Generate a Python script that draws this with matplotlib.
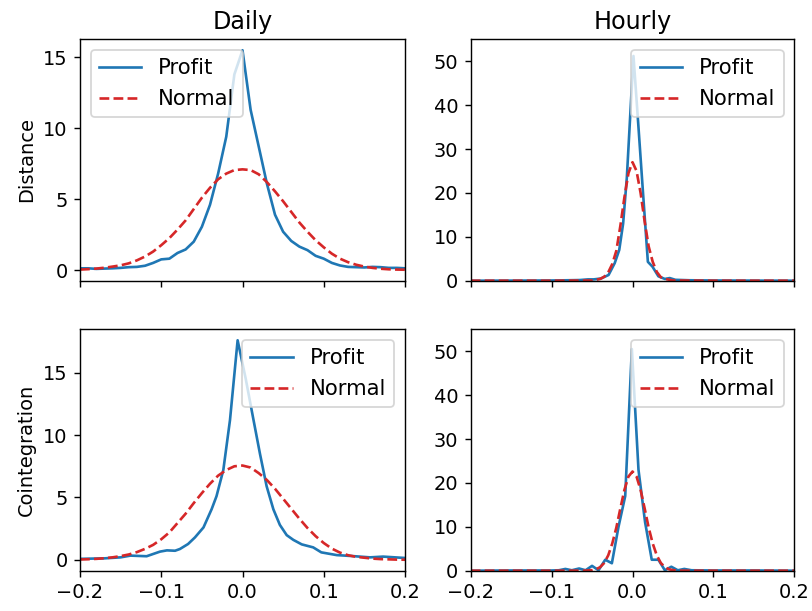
import matplotlib
matplotlib.use("Agg")
import matplotlib.pyplot as plt

# ---------------- data ----------------
col_titles = ["Daily", "Hourly"]
row_labels = ["Distance", "Cointegration"]
series_names = ["Profit", "Normal"]
x_ticks = [-0.2, -0.1, 0.0, 0.1, 0.2]

# Daily / Distance
dd_x = [-0.20, -0.19, -0.18, -0.17, -0.16, -0.15, -0.14, -0.13, -0.12, -0.11,
        -0.10, -0.09, -0.08, -0.07, -0.06, -0.05, -0.04, -0.03, -0.02, -0.01,
        0.00, 0.01, 0.02, 0.03, 0.04, 0.05, 0.06, 0.07, 0.08, 0.09,
        0.10, 0.11, 0.12, 0.13, 0.14, 0.15, 0.16, 0.17, 0.18, 0.19, 0.20]
dd_profit = [0.12, 0.12, 0.08, 0.10, 0.12, 0.15, 0.20, 0.22, 0.30, 0.50,
             0.75, 0.80, 1.20, 1.45, 2.00, 3.05, 4.60, 6.80, 9.40, 13.8,
             15.5, 11.3, 8.70, 6.10, 3.90, 2.70, 2.05, 1.65, 1.40, 1.00,
             0.80, 0.50, 0.32, 0.22, 0.20, 0.18, 0.22, 0.20, 0.15, 0.15, 0.12]
dd_normal = [0.03, 0.06, 0.10, 0.16, 0.24, 0.33, 0.47, 0.68, 0.95, 1.30,
             1.75, 2.25, 2.85, 3.50, 4.30, 5.10, 5.80, 6.40, 6.80, 7.05,
             7.10, 7.05, 6.75, 6.20, 5.55, 4.85, 4.10, 3.35, 2.70, 2.10,
             1.60, 1.15, 0.80, 0.55, 0.37, 0.24, 0.15, 0.09, 0.05, 0.03, 0.02]

# Daily / Cointegration
dc_profit_x = [-0.2, -0.17, -0.15, -0.138, -0.118, -0.1015, -0.093, -0.083, -0.077,
               -0.067, -0.0585, -0.048, -0.038, -0.032, -0.0236, -0.0154, -0.006,
               0.004, 0.013, 0.0215, 0.0297, 0.038, 0.046, 0.0544, 0.0626, 0.0729,
               0.087, 0.097, 0.116, 0.136, 0.157, 0.173, 0.2]
dc_profit = [0.08, 0.12, 0.20, 0.34, 0.29, 0.66, 0.76, 0.73, 0.87,
             1.27, 1.80, 2.60, 4.06, 5.10, 7.20, 11.2, 17.6,
             14.5, 11.4, 8.50, 5.90, 4.05, 2.80, 1.98, 1.60, 1.24,
             1.00, 0.60, 0.38, 0.30, 0.20, 0.26, 0.15]
dc_normal_x = dd_x
dc_normal = [0.03, 0.05, 0.08, 0.13, 0.20, 0.30, 0.43, 0.62, 0.88, 1.20,
             1.65, 2.20, 2.95, 3.70, 4.55, 5.35, 6.10, 6.75, 7.20, 7.50,
             7.56, 7.40, 6.95, 6.40, 5.70, 4.90, 4.10, 3.30, 2.55, 1.90,
             1.35, 0.90, 0.58, 0.37, 0.24, 0.17, 0.10, 0.06, 0.04, 0.02, 0.01]

# Hourly / Distance
hd_profit_x = [-0.2, -0.15, -0.1, -0.08, -0.065, -0.055, -0.048, -0.039, -0.0296,
               -0.022, -0.0164, -0.0116, -0.007, 0.0012, 0.007, 0.013, 0.019,
               0.0247, 0.032, 0.040, 0.046, 0.053, 0.062, 0.070, 0.1, 0.15, 0.2]
hd_profit = [0.0, 0.02, 0.05, 0.10, 0.15, 0.30, 0.30, 0.50, 1.30,
             4.00, 7.00, 13.0, 23.5, 51.2, 36.0, 20.0, 4.30,
             3.20, 1.00, 0.40, 0.60, 0.20, 0.15, 0.10, 0.05, 0.02, 0.0]
hd_normal_x = [-0.2, -0.1, -0.05, -0.04, -0.035, -0.03, -0.025, -0.02, -0.015, -0.01,
               -0.005, 0.0, 0.005, 0.01, 0.015, 0.02, 0.025, 0.03, 0.035, 0.04,
               0.05, 0.1, 0.2]
hd_normal = [0.0, 0.0, 0.05, 0.40, 0.90, 1.90, 3.80, 6.80, 12.5, 19.0,
             24.5, 27.0, 25.0, 20.0, 13.5, 7.80, 4.30, 2.00, 0.80, 0.40,
             0.05, 0.0, 0.0]

# Hourly / Cointegration
hc_profit_x = [-0.2, -0.15, -0.1, -0.091, -0.083, -0.075, -0.066, -0.058, -0.050,
               -0.042, -0.0337, -0.0255, -0.0173, -0.009, -0.0008, 0.0074, 0.0156,
               0.0238, 0.032, 0.040, 0.048, 0.056, 0.064, 0.073, 0.1, 0.15, 0.2]
hc_profit = [0.0, 0.05, 0.05, 0.10, 0.40, 0.10, 0.50, 0.10, 1.10,
             0.10, 2.50, 1.70, 10.0, 17.0, 50.5, 23.0, 11.0,
             2.50, 2.50, 0.10, 0.90, 0.10, 0.40, 0.10, 0.05, 0.05, 0.0]
hc_normal_x = [-0.2, -0.1, -0.06, -0.05, -0.045, -0.04, -0.035, -0.03, -0.025, -0.02,
               -0.015, -0.01, -0.005, 0.0, 0.005, 0.01, 0.015, 0.02, 0.025, 0.03,
               0.035, 0.04, 0.045, 0.05, 0.06, 0.1, 0.2]
hc_normal = [0.0, 0.0, 0.01, 0.12, 0.33, 0.81, 1.76, 3.50, 6.20, 9.80,
             14.2, 18.4, 21.45, 22.6, 21.45, 18.4, 14.2, 9.80, 6.20, 3.50,
             1.76, 0.81, 0.33, 0.12, 0.01, 0.0, 0.0]

panels = [
    [(dd_x, dd_profit, dd_x, dd_normal), (hd_profit_x, hd_profit, hd_normal_x, hd_normal)],
    [(dc_profit_x, dc_profit, dc_normal_x, dc_normal), (hc_profit_x, hc_profit, hc_normal_x, hc_normal)],
]
legend_locs = [["upper left", "upper right"], ["upper right", "upper right"]]

# ---------------- figure ----------------
W, H = 812, 611
DPI = 127
fig = plt.figure(figsize=(W / DPI, H / DPI), dpi=DPI)

col_x = [80, 470.7]
col_w = [325, 323.6]
row_top = [39.3, 329.3]
row_h = 241.4

axes = [[None, None], [None, None]]
for r in range(2):
    for c in range(2):
        rect = [col_x[c] / W, 1 - (row_top[r] + row_h) / H, col_w[c] / W, row_h / H]
        kw = {}
        if r == 1:
            kw["sharex"] = axes[0][c]
        ax = fig.add_axes(rect, **kw)
        axes[r][c] = ax
        px, py, nx, ny = panels[r][c]
        ax.plot(px, py, color="#1f77b4", lw=1.5, label=series_names[0])
        ax.plot(nx, ny, color="#d62728", lw=1.5, ls="--", label=series_names[1])
        ax.set_xlim(-0.2, 0.2)
        ax.set_xticks(x_ticks)
        if r == 0:
            ax.tick_params(labelbottom=False)
            ax.set_title(col_titles[c], fontsize=13.5)
        if c == 0:
            ax.set_ylabel(row_labels[r], fontsize=11)
            ax.set_yticks([0, 5, 10, 15])
        else:
            ax.set_ylim(0, 55)
            ax.set_yticks([0, 10, 20, 30, 40, 50])
        ax.tick_params(labelsize=11)
        ax.legend(loc=legend_locs[r][c], fontsize=12)

fig.savefig("out.png", dpi=DPI)
